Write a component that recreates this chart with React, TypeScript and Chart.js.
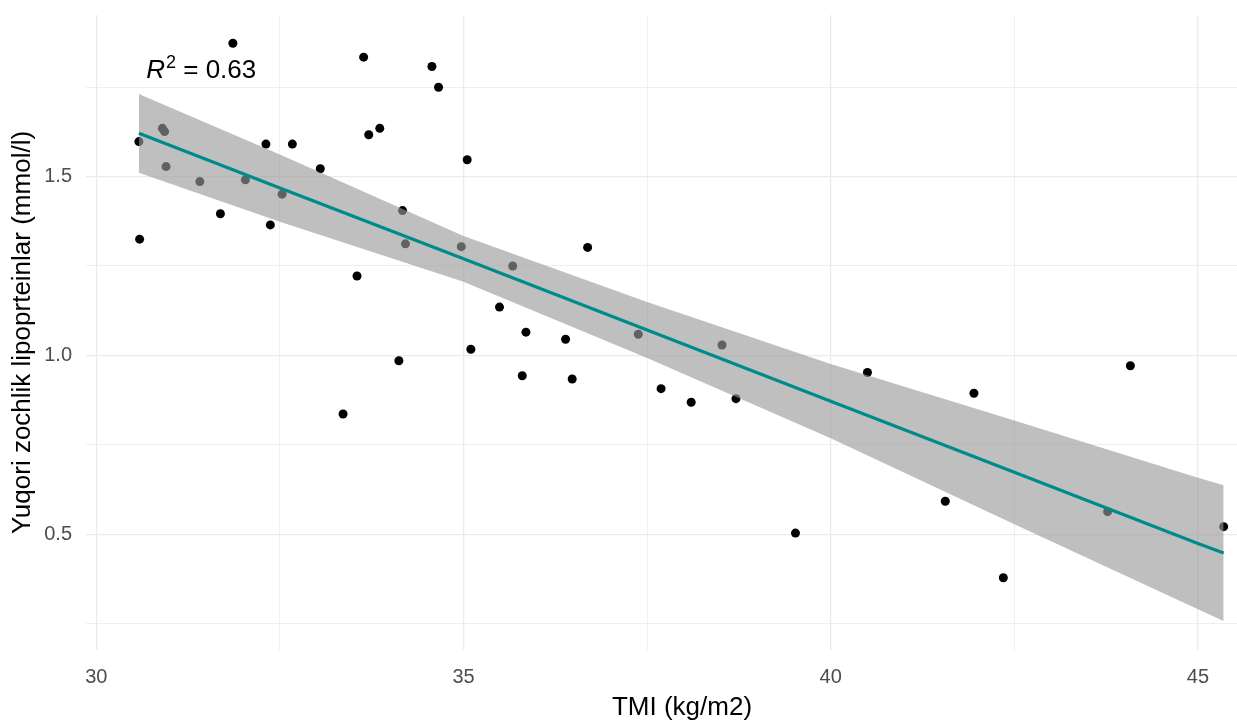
import React, { useEffect, useRef } from "react";
import { Chart, registerables } from "chart.js";

Chart.register(...registerables);

// Observed points: TMI (kg/m2) vs HDL (mmol/l)
const tmiValues = [
  30.58, 30.59, 30.9, 30.93, 30.95, 31.41, 31.69, 31.86, 32.03, 32.31,
  32.37, 32.53, 32.67, 33.05, 33.36, 33.55, 33.64, 33.71, 33.86, 34.12,
  34.17, 34.21, 34.57, 34.66, 34.97, 35.05, 35.1, 35.49, 35.67, 35.8,
  35.85, 36.39, 36.48, 36.69, 37.38, 37.69, 38.1, 38.52, 38.71, 39.52,
  40.5, 41.56, 41.95, 42.35, 43.77, 44.08, 45.35,
];
const hdlValues = [
  1.598, 1.325, 1.635, 1.626, 1.528, 1.486, 1.396, 1.873, 1.491, 1.591,
  1.365, 1.451, 1.591, 1.522, 0.836, 1.222, 1.834, 1.617, 1.635, 0.985,
  1.405, 1.312, 1.808, 1.75, 1.304, 1.547, 1.017, 1.135, 1.25, 0.943,
  1.065, 1.045, 0.934, 1.302, 1.059, 0.907, 0.869, 1.029, 0.879, 0.503,
  0.952, 0.592, 0.894, 0.378, 0.563, 0.971, 0.521,
];

// Regression line and 95% confidence band
const fitX = [30.58, 32.5, 35, 37.5, 40, 42.5, 45, 45.35];
const fitY = [1.621, 1.468, 1.27, 1.071, 0.872, 0.673, 0.474, 0.447];
const bandUpper = [1.731, 1.562, 1.334, 1.149, 0.976, 0.818, 0.658, 0.637];
const bandLower = [1.511, 1.374, 1.206, 0.993, 0.768, 0.528, 0.29, 0.257];

// Axes
const xMajorTicks = [30, 35, 40, 45];
const xMinorTicks = [32.5, 37.5, 42.5];
const yMajorTicks = [0.5, 1.0, 1.5];
const yMinorTicks = [0.25, 0.75, 1.25, 1.75];
const xRange = [29.86, 46.09];
const yRange = [0.176, 1.952];

const xTitle = "TMI (kg/m2)";
const yTitle = "Yuqori zochlik lipoprteinlar (mmol/l)";
const r2Label = "0.63";
const r2Anchor = [30.68, 1.776];

const FONT = "'Liberation Sans', Arial, sans-serif";

const r2Plugin = {
  id: "r2label",
  afterDatasetsDraw(chart: any) {
    const { ctx, scales } = chart;
    const x0 = scales.x.getPixelForValue(r2Anchor[0]);
    const y0 = scales.y.getPixelForValue(r2Anchor[1]);
    ctx.save();
    ctx.fillStyle = "#000000";
    ctx.textBaseline = "alphabetic";
    ctx.textAlign = "left";
    ctx.font = `italic 26px ${FONT}`;
    ctx.fillText("R", x0, y0);
    let x = x0 + ctx.measureText("R").width + 1;
    ctx.font = `18px ${FONT}`;
    ctx.fillText("2", x, y0 - 10);
    x += ctx.measureText("2").width;
    ctx.font = `26px ${FONT}`;
    ctx.fillText(" = " + r2Label, x, y0);
    ctx.restore();
  },
};

export default function App() {
  const canvasRef = useRef<HTMLCanvasElement | null>(null);

  useEffect(() => {
    document.documentElement.style.overflow = "hidden";
    document.body.style.overflow = "hidden";
    const canvas = canvasRef.current;
    if (!canvas) return;

    const points = tmiValues.map((x, i) => ({ x, y: hdlValues[i] }));
    const fitLine = fitX.map((x, i) => ({ x, y: fitY[i] }));
    const upper = fitX.map((x, i) => ({ x, y: bandUpper[i] }));
    const lower = fitX.map((x, i) => ({ x, y: bandLower[i] }));

    const xTicks = [...xMajorTicks, ...xMinorTicks].sort((a, b) => a - b);
    const yTicks = [...yMajorTicks, ...yMinorTicks].sort((a, b) => a - b);

    const gridColor = () => "#EBEBEB";
    const gridWidth = (major: number[]) => (ctx: any) =>
      ctx.tick && major.includes(ctx.tick.value) ? 1.3 : 0.8;

    const chart = new Chart(canvas, {
      type: "scatter",
      data: {
        datasets: [
          {
            type: "line",
            label: "fit",
            data: fitLine,
            borderColor: "#008B8B",
            borderWidth: 3.2,
            pointRadius: 0,
            fill: false,
            tension: 0,
            order: 0,
          } as any,
          {
            type: "line",
            label: "upper",
            data: upper,
            borderWidth: 0,
            borderColor: "rgba(0,0,0,0)",
            backgroundColor: "rgba(153,153,153,0.63)",
            pointRadius: 0,
            fill: "+1",
            tension: 0,
            order: 1,
          } as any,
          {
            type: "line",
            label: "lower",
            data: lower,
            borderWidth: 0,
            borderColor: "rgba(0,0,0,0)",
            pointRadius: 0,
            fill: false,
            tension: 0,
            order: 1,
          } as any,
          {
            type: "scatter",
            label: "points",
            data: points,
            backgroundColor: "#000000",
            borderWidth: 0,
            pointRadius: 4.5,
            order: 2,
          },
        ],
      },
      options: {
        animation: false,
        responsive: true,
        maintainAspectRatio: false,
        layout: { padding: { top: 15, right: 22, left: 0, bottom: 0 } },
        plugins: {
          legend: { display: false },
          tooltip: { enabled: false },
        },
        scales: {
          x: {
            type: "linear",
            min: xRange[0],
            max: xRange[1],
            afterBuildTicks: (scale: any) => {
              scale.ticks = xTicks.map((v) => ({ value: v }));
            },
            afterFit: (scale: any) => {
              scale.height = 72;
              scale.paddingLeft = 0;
              scale.paddingRight = 0;
            },
            border: { display: false },
            grid: {
              color: gridColor,
              lineWidth: gridWidth(xMajorTicks),
              drawTicks: false,
            },
            ticks: {
              padding: 15,
              color: "#4D4D4D",
              font: { family: FONT, size: 20 },
              maxRotation: 0,
              autoSkip: false,
              callback: (v: any) =>
                xMajorTicks.includes(Number(v)) ? String(v) : "",
            },
            title: {
              display: true,
              text: xTitle,
              color: "#000000",
              font: { family: FONT, size: 26, lineHeight: 1 },
              padding: { top: 0, bottom: 1 },
            },
          },
          y: {
            type: "linear",
            min: yRange[0],
            max: yRange[1],
            afterBuildTicks: (scale: any) => {
              scale.ticks = yTicks.map((v) => ({ value: v }));
            },
            afterFit: (scale: any) => {
              scale.width = 86;
              scale.paddingTop = 0;
              scale.paddingBottom = 0;
            },
            border: { display: false },
            grid: {
              color: gridColor,
              lineWidth: gridWidth(yMajorTicks),
              drawTicks: false,
            },
            ticks: {
              padding: 14,
              color: "#4D4D4D",
              font: { family: FONT, size: 20 },
              autoSkip: false,
              callback: (v: any) =>
                yMajorTicks.includes(Number(v)) ? Number(v).toFixed(1) : "",
            },
            title: {
              display: true,
              text: yTitle,
              color: "#000000",
              font: { family: FONT, size: 26, lineHeight: 1 },
              padding: { top: 10, bottom: 0 },
            },
          },
        },
      },
      plugins: [r2Plugin],
    } as any);

    return () => chart.destroy();
  }, []);

  return (
    <div
      style={{
        position: "fixed",
        left: 0,
        top: 0,
        width: "1300px",
        height: "722px",
        background: "#ffffff",
      }}
    >
      <canvas ref={canvasRef} />
    </div>
  );
}
